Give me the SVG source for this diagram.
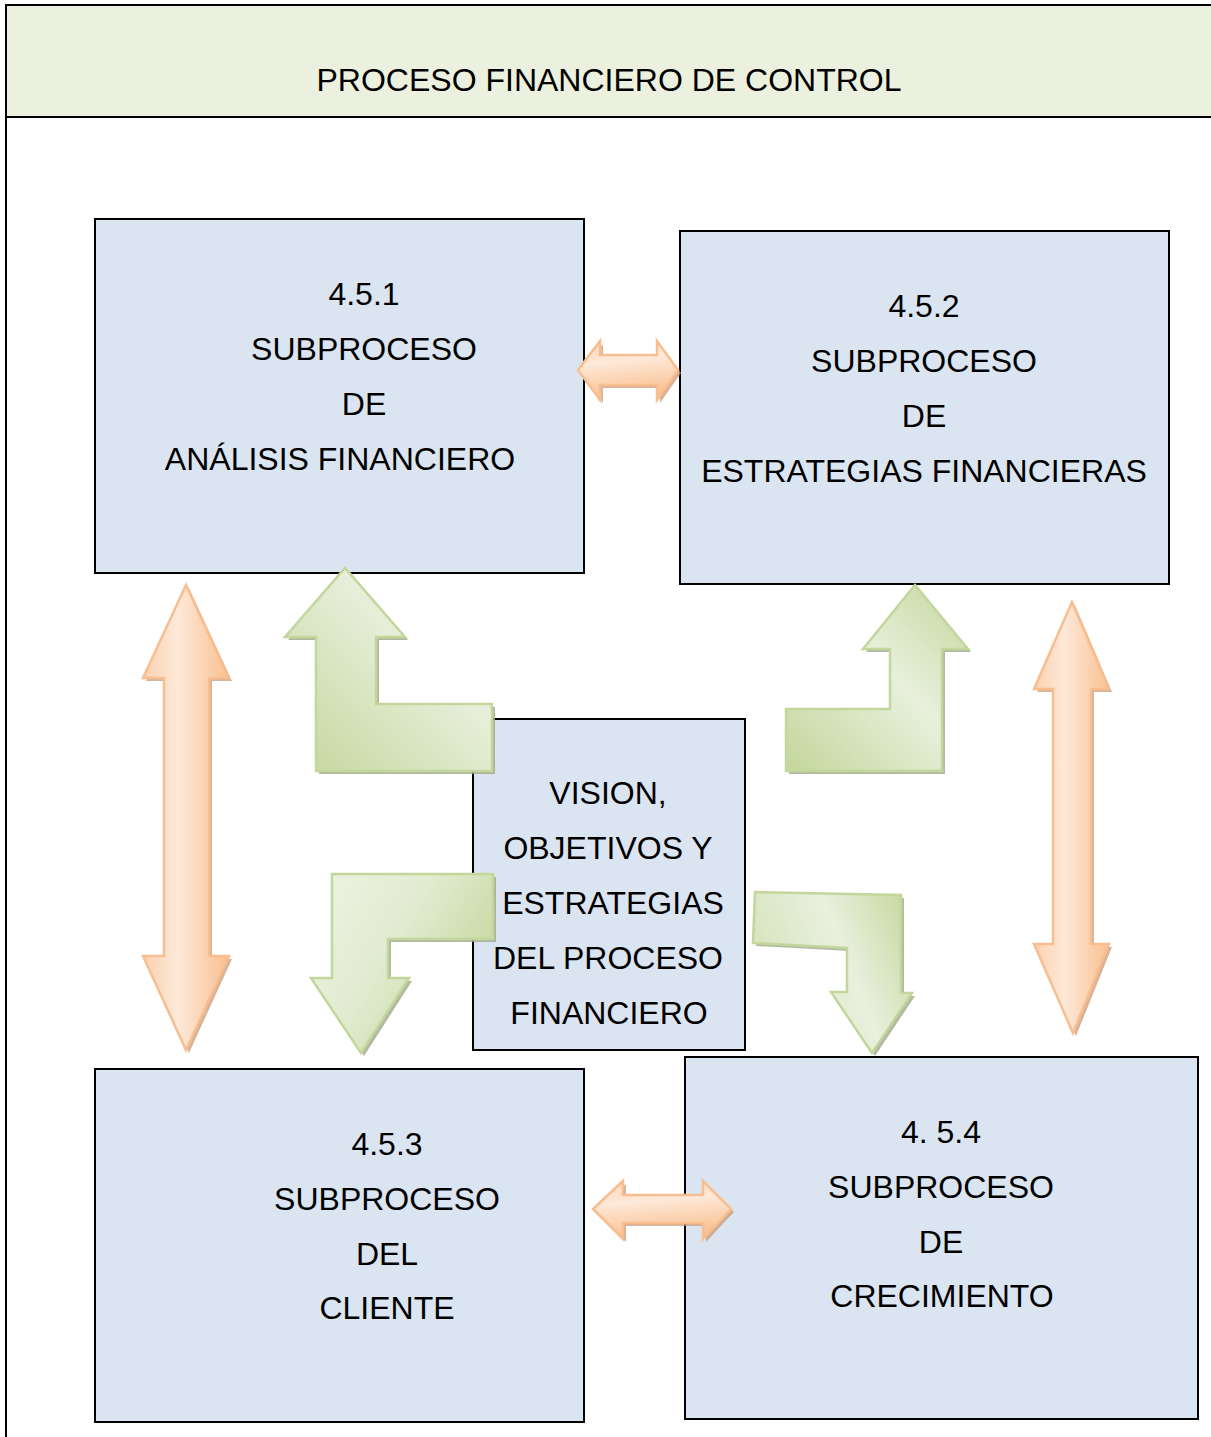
<svg xmlns="http://www.w3.org/2000/svg" width="1211" height="1437" viewBox="0 0 1211 1437">
<defs>
<style>
.box{fill:#DBE5F1;stroke:#000;stroke-width:2}
.t{font-family:"Liberation Sans",Arial,sans-serif;font-size:32px;fill:#000;text-anchor:middle}
.gs{fill:#9FA98A;opacity:0.8}
.os{fill:#C99A78;opacity:0.75}
.g{stroke:#C3D69B;stroke-width:2.5;stroke-linejoin:miter}
.o{stroke:#F9BE8F;stroke-width:2.5;stroke-linejoin:miter}
</style>
<linearGradient id="gTL" x1="0" y1="1" x2="1" y2="0"><stop offset="0" stop-color="#C3D69B"/><stop offset="0.6" stop-color="#E6EED8"/><stop offset="1" stop-color="#EEF3E4"/></linearGradient>
<linearGradient id="gTR" x1="0" y1="1" x2="1" y2="0"><stop offset="0" stop-color="#C3D69B"/><stop offset="0.55" stop-color="#E8F0DC"/><stop offset="1" stop-color="#C3D69B"/></linearGradient>
<linearGradient id="gBL" x1="0" y1="0" x2="1" y2="0.6"><stop offset="0" stop-color="#EEF3E4"/><stop offset="0.5" stop-color="#E1EBD0"/><stop offset="1" stop-color="#C3D69B"/></linearGradient>
<linearGradient id="gBR" x1="0" y1="0.4" x2="1" y2="0"><stop offset="0" stop-color="#D6E4BD"/><stop offset="0.5" stop-color="#E9F0DE"/><stop offset="1" stop-color="#C3D69B"/></linearGradient>
<linearGradient id="oV" x1="0" y1="0" x2="1" y2="0"><stop offset="0" stop-color="#FBD0AE"/><stop offset="0.4" stop-color="#FDE9D9"/><stop offset="1" stop-color="#FAC090"/></linearGradient>
<linearGradient id="oH" x1="0" y1="0" x2="0.2" y2="1"><stop offset="0" stop-color="#FBD3B3"/><stop offset="0.4" stop-color="#FDE9D9"/><stop offset="1" stop-color="#FAC090"/></linearGradient>
</defs>

<g id="frame">
<rect x="6" y="5" width="1210" height="112" fill="#EBF1DE"/>
<path d="M6,1437 L6,5 L1216,5 M6,117 L1216,117" fill="none" stroke="#000" stroke-width="2"/>
<text class="t" x="609" y="91">PROCESO FINANCIERO DE CONTROL</text>
</g>

<g id="n451">
<rect class="box" x="95" y="219" width="489" height="354"/>
<text class="t" x="364" y="305">4.5.1</text>
<text class="t" x="364" y="360">SUBPROCESO</text>
<text class="t" x="364" y="415">DE</text>
<text class="t" x="340" y="470">ANÁLISIS FINANCIERO</text>
</g>

<g id="n452">
<rect class="box" x="680" y="231" width="489" height="353"/>
<text class="t" x="924" y="317">4.5.2</text>
<text class="t" x="924" y="372">SUBPROCESO</text>
<text class="t" x="924" y="427">DE</text>
<text class="t" x="924" y="482">ESTRATEGIAS FINANCIERAS</text>
</g>

<g id="ncentro">
<rect class="box" x="473" y="719" width="272" height="331"/>
<text class="t" x="608" y="804">VISION,</text>
<text class="t" x="608" y="859">OBJETIVOS Y</text>
<text class="t" x="613" y="914">ESTRATEGIAS</text>
<text class="t" x="608" y="969">DEL PROCESO</text>
<text class="t" x="609" y="1024">FINANCIERO</text>
</g>

<g id="n453">
<rect class="box" x="95" y="1069" width="489" height="353"/>
<text class="t" x="387" y="1155">4.5.3</text>
<text class="t" x="387" y="1210">SUBPROCESO</text>
<text class="t" x="387" y="1265">DEL</text>
<text class="t" x="387" y="1319">CLIENTE</text>
</g>

<g id="n454">
<rect class="box" x="685" y="1057" width="513" height="362"/>
<text class="t" x="941" y="1143">4. 5.4</text>
<text class="t" x="941" y="1198">SUBPROCESO</text>
<text class="t" x="941" y="1253">DE</text>
<text class="t" x="942" y="1307">CRECIMIENTO</text>
</g>

<g id="connectors">
<g transform="translate(3,3)">
<path class="os" d="M186,585 L229,678 L209,678 L209,956 L229,956 L186,1050 L143,956 L164,956 L164,678 L143,678 Z"/>
<path class="os" d="M1072,602 L1109,689 L1091,689 L1091,944 L1109,944 L1073,1033 L1034,944 L1053,944 L1053,689 L1034,689 Z"/>
<path class="os" d="M578,370 L600,341 L600,355 L657,355 L657,341 L678,370 L657,400 L657,385 L600,385 L600,400 Z"/>
<path class="os" d="M593,1209 L623,1181 L623,1195 L703,1195 L703,1181 L731,1209 L703,1239 L703,1223 L623,1223 L623,1239 Z"/>
<path class="gs" d="M316,771 L316,637 L285,637 L345,568 L405,637 L376,637 L376,704 L492,704 L492,771 Z"/>
<path class="gs" d="M786,709 L890,709 L890,649 L863,649 L915,585 L968,649 L942,649 L942,771 L786,771 Z"/>
<path class="gs" d="M493,874 L332,874 L332,978 L311,978 L361,1053 L409,978 L388,978 L388,939 L493,939 Z"/>
<path class="gs" d="M755,892 L901,895 L901,993 L912,993 L872,1053 L831,992 L847,992 L847,948 L753,943 Z"/>
</g>
<path class="o" fill="url(#oV)" d="M186,585 L229,678 L209,678 L209,956 L229,956 L186,1050 L143,956 L164,956 L164,678 L143,678 Z"/>
<path class="o" fill="url(#oV)" d="M1072,602 L1109,689 L1091,689 L1091,944 L1109,944 L1073,1033 L1034,944 L1053,944 L1053,689 L1034,689 Z"/>
<path class="o" fill="url(#oH)" d="M578,370 L600,341 L600,355 L657,355 L657,341 L678,370 L657,400 L657,385 L600,385 L600,400 Z"/>
<path class="o" fill="url(#oH)" d="M593,1209 L623,1181 L623,1195 L703,1195 L703,1181 L731,1209 L703,1239 L703,1223 L623,1223 L623,1239 Z"/>
<path class="g" fill="url(#gTL)" d="M316,771 L316,637 L285,637 L345,568 L405,637 L376,637 L376,704 L492,704 L492,771 Z"/>
<path class="g" fill="url(#gTR)" d="M786,709 L890,709 L890,649 L863,649 L915,585 L968,649 L942,649 L942,771 L786,771 Z"/>
<path class="g" fill="url(#gBL)" d="M493,874 L332,874 L332,978 L311,978 L361,1053 L409,978 L388,978 L388,939 L493,939 Z"/>
<path class="g" fill="url(#gBR)" d="M755,892 L901,895 L901,993 L912,993 L872,1053 L831,992 L847,992 L847,948 L753,943 Z"/>
</g>
</svg>
